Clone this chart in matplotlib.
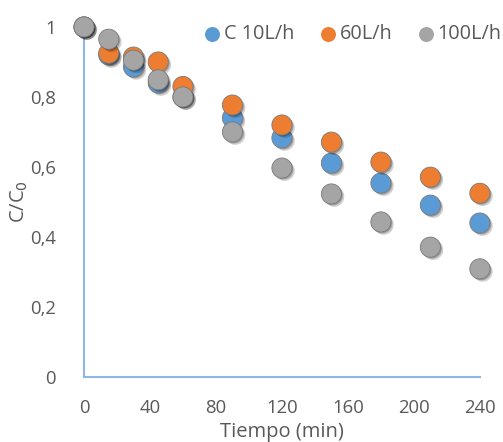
import matplotlib
matplotlib.use("Agg")
import matplotlib.pyplot as plt
import matplotlib.patheffects as pe

plt.rcParams['font.family'] = ['Open Sans', 'DejaVu Sans']

tiempo = [0, 15, 30, 45, 60, 90, 120, 150, 180, 210, 240]
c_10 = [1.0, 0.92, 0.886, 0.84, 0.80, 0.74, 0.683, 0.611, 0.554, 0.491, 0.44]
c_60 = [1.0, 0.925, 0.914, 0.90, 0.83, 0.777, 0.72, 0.671, 0.614, 0.571, 0.525]
c_100 = [1.0, 0.965, 0.905, 0.849, 0.80, 0.70, 0.597, 0.523, 0.443, 0.371, 0.309]

series = [
    ("C 10L/h", c_10, "#5B9BD5"),
    ("60L/h", c_60, "#ED7D31"),
    ("100L/h", c_100, "#A5A5A5"),
]

x_ticks = [0, 40, 80, 120, 160, 200, 240]
y_ticks = [0, 0.2, 0.4, 0.6, 0.8, 1.0]
y_ticklabels = ["0", "0,2", "0,4", "0,6", "0,8", "1"]

text_color = "#595959"
axis_color = "#8FB8E6"

fig = plt.figure(figsize=(5.03, 4.42), dpi=100)
ax = fig.add_axes([0.167, 0.147, 0.787, 0.792])

shadow = [
    pe.SimplePatchShadow(offset=(2.0, -2.0), shadow_rgbFace="black", alpha=0.18),
    pe.SimplePatchShadow(offset=(1.0, -1.0), shadow_rgbFace="black", alpha=0.25),
    pe.Normal(),
]

for label, vals, color in series:
    ax.scatter(tiempo, vals, s=210, color=color, edgecolors="#7a7a7a",
               linewidths=0.6, zorder=3, path_effects=shadow, clip_on=False)
    ax.scatter([], [], s=95, color=color, label=label)

ax.set_xlim(0, 240)
ax.set_ylim(0, 1)
ax.set_xticks(x_ticks)
ax.set_xticklabels([str(t) for t in x_ticks])
ax.set_yticks(y_ticks)
ax.set_yticklabels(y_ticklabels)
ax.tick_params(axis="both", length=0, labelsize=13.3, colors=text_color)
ax.tick_params(axis="x", pad=16)
ax.tick_params(axis="y", pad=20)

for side in ("top", "right"):
    ax.spines[side].set_visible(False)
for side in ("left", "bottom"):
    ax.spines[side].set_color(axis_color)
    ax.spines[side].set_linewidth(1.5)

ax.set_xlabel("Tiempo (min)", fontsize=14.5, color=text_color)
ax.xaxis.set_label_coords(0.5, -0.128)
ax.set_ylabel("C/C$_0$", fontsize=14.5, color=text_color)
ax.yaxis.set_label_coords(-0.137, 0.5)

leg = ax.legend(loc="upper right", bbox_to_anchor=(1.075, 1.03), ncol=3,
                frameon=False, fontsize=14.3, handletextpad=-0.42,
                columnspacing=0.7, borderaxespad=0)
for t in leg.get_texts():
    t.set_color(text_color)

fig.savefig("out.png", dpi=100)
